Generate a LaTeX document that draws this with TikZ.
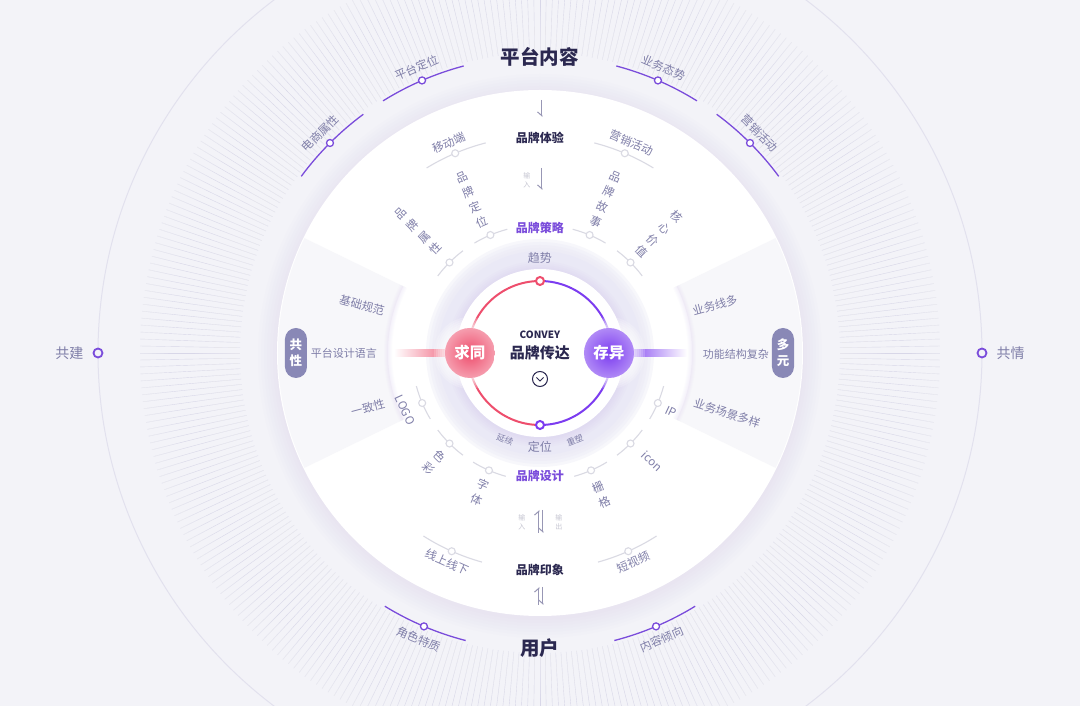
\documentclass[tikz,border=0pt]{standalone}
\usepackage{fontspec}
\setmainfont{Noto Sans CJK SC}
\usetikzlibrary{arrows.meta}
\definecolor{bg}{HTML}{F3F3F8}
\definecolor{lbl}{HTML}{7F7EA8}
\definecolor{navy}{HTML}{2B2850}
\definecolor{vio}{HTML}{7A4CDB}
\definecolor{vio2}{HTML}{7C3CF0}
\definecolor{rosy}{HTML}{EE4E6D}
\definecolor{arcg}{HTML}{DADAE3}
\definecolor{tickc}{HTML}{D8D7E8}
\definecolor{lav}{HTML}{EAE9F6}
\definecolor{pillc}{HTML}{8988B6}
\definecolor{faint}{HTML}{C6C6D2}
\definecolor{ringl}{HTML}{E2E1EE}
\definecolor{panelc}{HTML}{F7F7FA}
\definecolor{arrowc}{HTML}{9897B5}
\newcommand\arcseg[5]{%
  \draw[#5] ({#2-#4}:#3) arc[start angle={#2-#4}, end angle={#2+#4}, radius=#3];
  \node[#5, dotnode] (#1) at (#2:#3) {};}
\newcommand\sidepanel[2]{%
  \fill[panelc] (#1:152) arc[start angle=#1, end angle=#2, radius=152] -- (#2:262) arc[start angle=#2, end angle=#1, radius=262] -- cycle;
  \foreach \w in {2,4,6,8}
    \draw[vio!50, opacity=0.03, line width=\w pt] (#1:152) arc[start angle=#1, end angle=#2, radius=152];}
\begin{document}
\begin{tikzpicture}[x=1pt,y=1pt,
  lab/.style={text=lbl, font=\fontsize{11.5}{15}\selectfont, inner sep=0pt, align=center},
  labs/.style={text=lbl, font=\fontsize{11}{15}\selectfont, inner sep=0pt, align=center},
  vlab/.style={text=lbl, font=\fontsize{11.5}{16.5}\selectfont, inner sep=0pt, align=center},
  tiny/.style={text=lbl, font=\fontsize{8.5}{10}\selectfont, inner sep=0pt},
  faintv/.style={text=faint, font=\fontsize{7}{9}\selectfont, inner sep=0pt, align=center},
  title/.style={text=navy, font=\fontsize{19.5}{22}\selectfont\bfseries, inner sep=0pt},
  head/.style={text=navy, font=\fontsize{12}{14}\selectfont\bfseries, inner sep=0pt},
  headv/.style={text=vio, font=\fontsize{12}{14}\selectfont\bfseries, inner sep=0pt},
  outarc/.style={draw=vio, line width=1.3pt},
  inarc/.style={draw=arcg, line width=1.1pt},
  dotnode/.style={circle, fill=white, inner sep=0pt, minimum size=7pt},
  pillnode/.style={fill=pillc, rounded corners=11pt, minimum width=22pt, minimum height=50pt, text=white, font=\fontsize{12.5}{16}\selectfont\bfseries, align=center, inner sep=0pt},
  harp/.style={draw=arrowc, line width=1pt, -{Straight Barb[harpoon,swap,length=4pt,width=9pt]}},
  harpr/.style={draw=arrowc, line width=1pt, -{Straight Barb[harpoon,length=4pt,width=9pt]}}
]
\useasboundingbox (-540,-353) rectangle (540,353);
\fill[bg] (-540,-353) rectangle (540,353);
% tick ring
\foreach \a in {0,1,...,359} \draw[tickc, line width=0.4pt] (\a:300) -- (\a:400);
\foreach \r in {345,341,...,300} \fill[bg, opacity=0.09] (0,0) circle (\r);
\foreach \r in {372,376,...,400} \fill[bg, opacity=0.12, even odd rule] (0,0) circle (401) (0,0) circle (\r);
% thin outer circle and markers
\draw[ringl, line width=1pt] (0,0) circle (442);
\node[circle, draw=vio, line width=1.8pt, fill=bg, inner sep=0pt, minimum size=9pt] (mL) at (-442,0) {};
\node[circle, draw=vio, line width=1.8pt, fill=bg, inner sep=0pt, minimum size=9pt] (mR) at (442,0) {};
\node[text=lbl, font=\fontsize{14}{16}\selectfont, anchor=east] (gj) at (-453,0) {共建};
\node[text=lbl, font=\fontsize{14}{16}\selectfont, anchor=west] (gq) at (453,0) {共情};
% disk glow
\foreach \r in {300,297,...,264} \fill[white, opacity=0.06] (0,0) circle (\r);
\foreach \r in {282,279,...,264} \fill[vio!45, opacity=0.022] (0,-3) circle (\r);
\fill[white] (0,0) circle (263);
% side panels
\sidepanel{154}{206}
\sidepanel{-26}{26}
% outer band arcs
\arcseg{o1}{113.4}{297}{8.5}{outarc}
\arcseg{o2}{135}{297}{8.5}{outarc}
\arcseg{o3}{66.6}{297}{8.5}{outarc}
\arcseg{o4}{45}{297}{8.5}{outarc}
\arcseg{o5}{247}{297}{8.5}{outarc}
\arcseg{o6}{293}{297}{8.5}{outarc}
\node[lab, rotate=23.4] (t1) at (113.4:311) {平台定位};
\node[lab, rotate=45] (t2) at (135:311) {电商属性};
\node[lab, rotate=-23.4] (t3) at (66.6:311) {业务态势};
\node[lab, rotate=-45] (t4) at (45:311) {营销活动};
\node[lab, rotate=-23] (t5) at (247:311) {角色特质};
\node[lab, rotate=23] (t6) at (293:311) {内容倾向};
\node[title] (pt) at (0,296) {平台内容};
\node[title] (yh) at (0,-295) {用户};
% white disk outer ring
\arcseg{w1}{113}{217}{8.5}{inarc}
\arcseg{w2}{67}{217}{8.5}{inarc}
\arcseg{w3}{246}{217}{8.5}{inarc}
\arcseg{w4}{294}{217}{8.5}{inarc}
\node[lab, rotate=23.5] (u1) at (113.5:229) {移动端};
\node[lab, rotate=-23.5] (u2) at (66.5:229) {营销活动};
\node[lab, rotate=-24] (u3) at (246:229) {线上线下};
\node[lab, rotate=24] (u4) at (294:229) {短视频};
\node[head] (tyan) at (0,215) {品牌体验};
\node[head] (yx) at (0,-217) {品牌印象};
% inner ring
\arcseg{i1}{112.8}{128}{8}{inarc}
\arcseg{i2}{67.2}{128}{8}{inarc}
\arcseg{i3}{135}{128}{8}{inarc}
\arcseg{i4}{45}{128}{8}{inarc}
\arcseg{i5}{203}{128}{8}{inarc}
\arcseg{i6}{337}{128}{8}{inarc}
\arcseg{i7}{225}{128}{8}{inarc}
\arcseg{i8}{315}{128}{8}{inarc}
\arcseg{i9}{246.5}{128}{8}{inarc}
\arcseg{i10}{293.5}{128}{8}{inarc}
\node[vlab, rotate=24] (v1) at (114:168) {品\\牌\\定\\位};
\node[vlab, rotate=45] (v2) at (135:172) {品\\牌\\属\\性};
\node[vlab, rotate=-23] (v3) at (67:167) {品\\牌\\故\\事};
\node[vlab, rotate=-45] (v4) at (45:168) {核\\心\\价\\值};
\node[vlab, rotate=-44] (v5) at (226:152) {色\\彩};
\node[vlab, rotate=-23.4] (v6) at (246.6:152) {字\\体};
\node[vlab, rotate=23.4] (v7) at (293.4:154) {栅\\格};
\node[lab, rotate=-44] (v8) at (316:156) {icon};
\node[lab, rotate=-25] (v9) at (336:144) {IP};
\node[lab, rotate=-65] (v10) at (-135,-57) {LOGO};
\node[headv] (cl) at (0,125) {品牌策略};
\node[headv] (sj) at (0,-123) {品牌设计};
% arrows
\coordinate (a1s) at (2,253); \coordinate (a1e) at (2,236);
\draw[harp] (a1s) -- (a1e);
\coordinate (a2s) at (2,185); \coordinate (a2e) at (2,163);
\draw[harp] (a2s) -- (a2e);
\node[faintv] (sr1) at (-13,173) {输\\入};
\coordinate (a3s) at (-1,-180); \coordinate (a3e) at (-1,-157);
\draw[harpr] (a3s) -- (a3e);
\coordinate (a4s) at (3,-157); \coordinate (a4e) at (3,-180);
\draw[harp] (a4s) -- (a4e);
\node[faintv] (sr2) at (-18,-169) {输\\入};
\node[faintv] (sc2) at (19,-169) {输\\出};
\coordinate (a5s) at (-1,-252); \coordinate (a5e) at (-1,-234);
\draw[harpr] (a5s) -- (a5e);
\coordinate (a6s) at (3,-234); \coordinate (a6e) at (3,-252);
\draw[harp] (a6s) -- (a6e);
% side panel texts
\node[lab, rotate=-15] (p1) at (-178,48) {基础规范};
\node[labs] (p2) at (-196,0) {平台设计语言};
\node[lab, rotate=15] (p3) at (-172,-55) {一致性};
\node[pillnode] (gx) at (-244,0) {共\\性};
\node[lab, rotate=15] (q1) at (175,48) {业务线多};
\node[labs] (q2) at (196,-1) {功能结构复杂};
\node[lab, rotate=-18] (q3) at (187,-60) {业务场景多样};
\node[pillnode] (dy) at (243,0) {多\\元};
% lavender annulus
\foreach \r in {114,111,...,103} \fill[lav, opacity=0.35] (0,0) circle (\r);
\fill[lav] (0,0) circle (102);
\foreach \r in {93,91,...,85} \fill[vio!40, opacity=0.05] (0,-1) circle (\r);
\fill[white] (0,0) circle (84);
\node[text=lbl, font=\fontsize{12}{14}\selectfont, inner sep=0pt] (qs) at (0,95) {趋势};
\node[text=lbl, font=\fontsize{12}{14}\selectfont, inner sep=0pt] (dw) at (0,-94) {定位};
\node[tiny, rotate=-22] (yx2) at (-35,-87) {延续};
\node[tiny, rotate=22] (cs) at (35,-87) {重塑};
% bars
\shade[left color=white, right color=rosy!80] (-146,-3.5) rectangle (-92,3.5);
\shade[left color=vio2!85, right color=white] (92,-3.5) rectangle (147,3.5);
% ring
\draw[rosy, line width=2pt] (90:72) arc[start angle=90, end angle=270, radius=72];
\draw[vio2, line width=2pt] (-90:72) arc[start angle=-90, end angle=90, radius=72];
\node[circle, draw=rosy, fill=white, line width=2pt, inner sep=0pt, minimum size=8pt] (rt) at (90:72) {};
\node[circle, draw=vio2, fill=white, line width=2pt, inner sep=0pt, minimum size=8pt] (rb) at (270:72) {};
% bubbles
\foreach \r in {36,34,...,26} \fill[white, opacity=0.2] (-70,0) circle (\r);
\foreach \r in {36,34,...,26} \fill[white, opacity=0.2] (69,0) circle (\r);
\shade[inner color=rosy, outer color=rosy!55] (-70,0) circle (25);
\shade[inner color=vio2, outer color=vio2!60] (69,0) circle (25);
\node[text=white, font=\fontsize{15.5}{18}\selectfont\bfseries, inner sep=0pt] (qt) at (-70,0) {求同};
\node[text=white, font=\fontsize{15.5}{18}\selectfont\bfseries, inner sep=0pt] (cy) at (69,0) {存异};
% center
\node[text=navy, font=\fontsize{10}{12}\selectfont\bfseries, inner sep=0pt] (cv) at (0,18) {CONVEY};
\node[text=navy, font=\fontsize{15}{18}\selectfont\bfseries, inner sep=0pt] (cd) at (0,0) {品牌传达};
\node[circle, draw=navy, line width=1pt, inner sep=0pt, minimum size=15pt] (chev) at (0,-26) {};
\draw[navy, line width=1pt] ([shift={(-3.5,1.5)}]chev.center) -- ([shift={(0,-2)}]chev.center) -- ([shift={(3.5,1.5)}]chev.center);
\end{tikzpicture}
\end{document}
